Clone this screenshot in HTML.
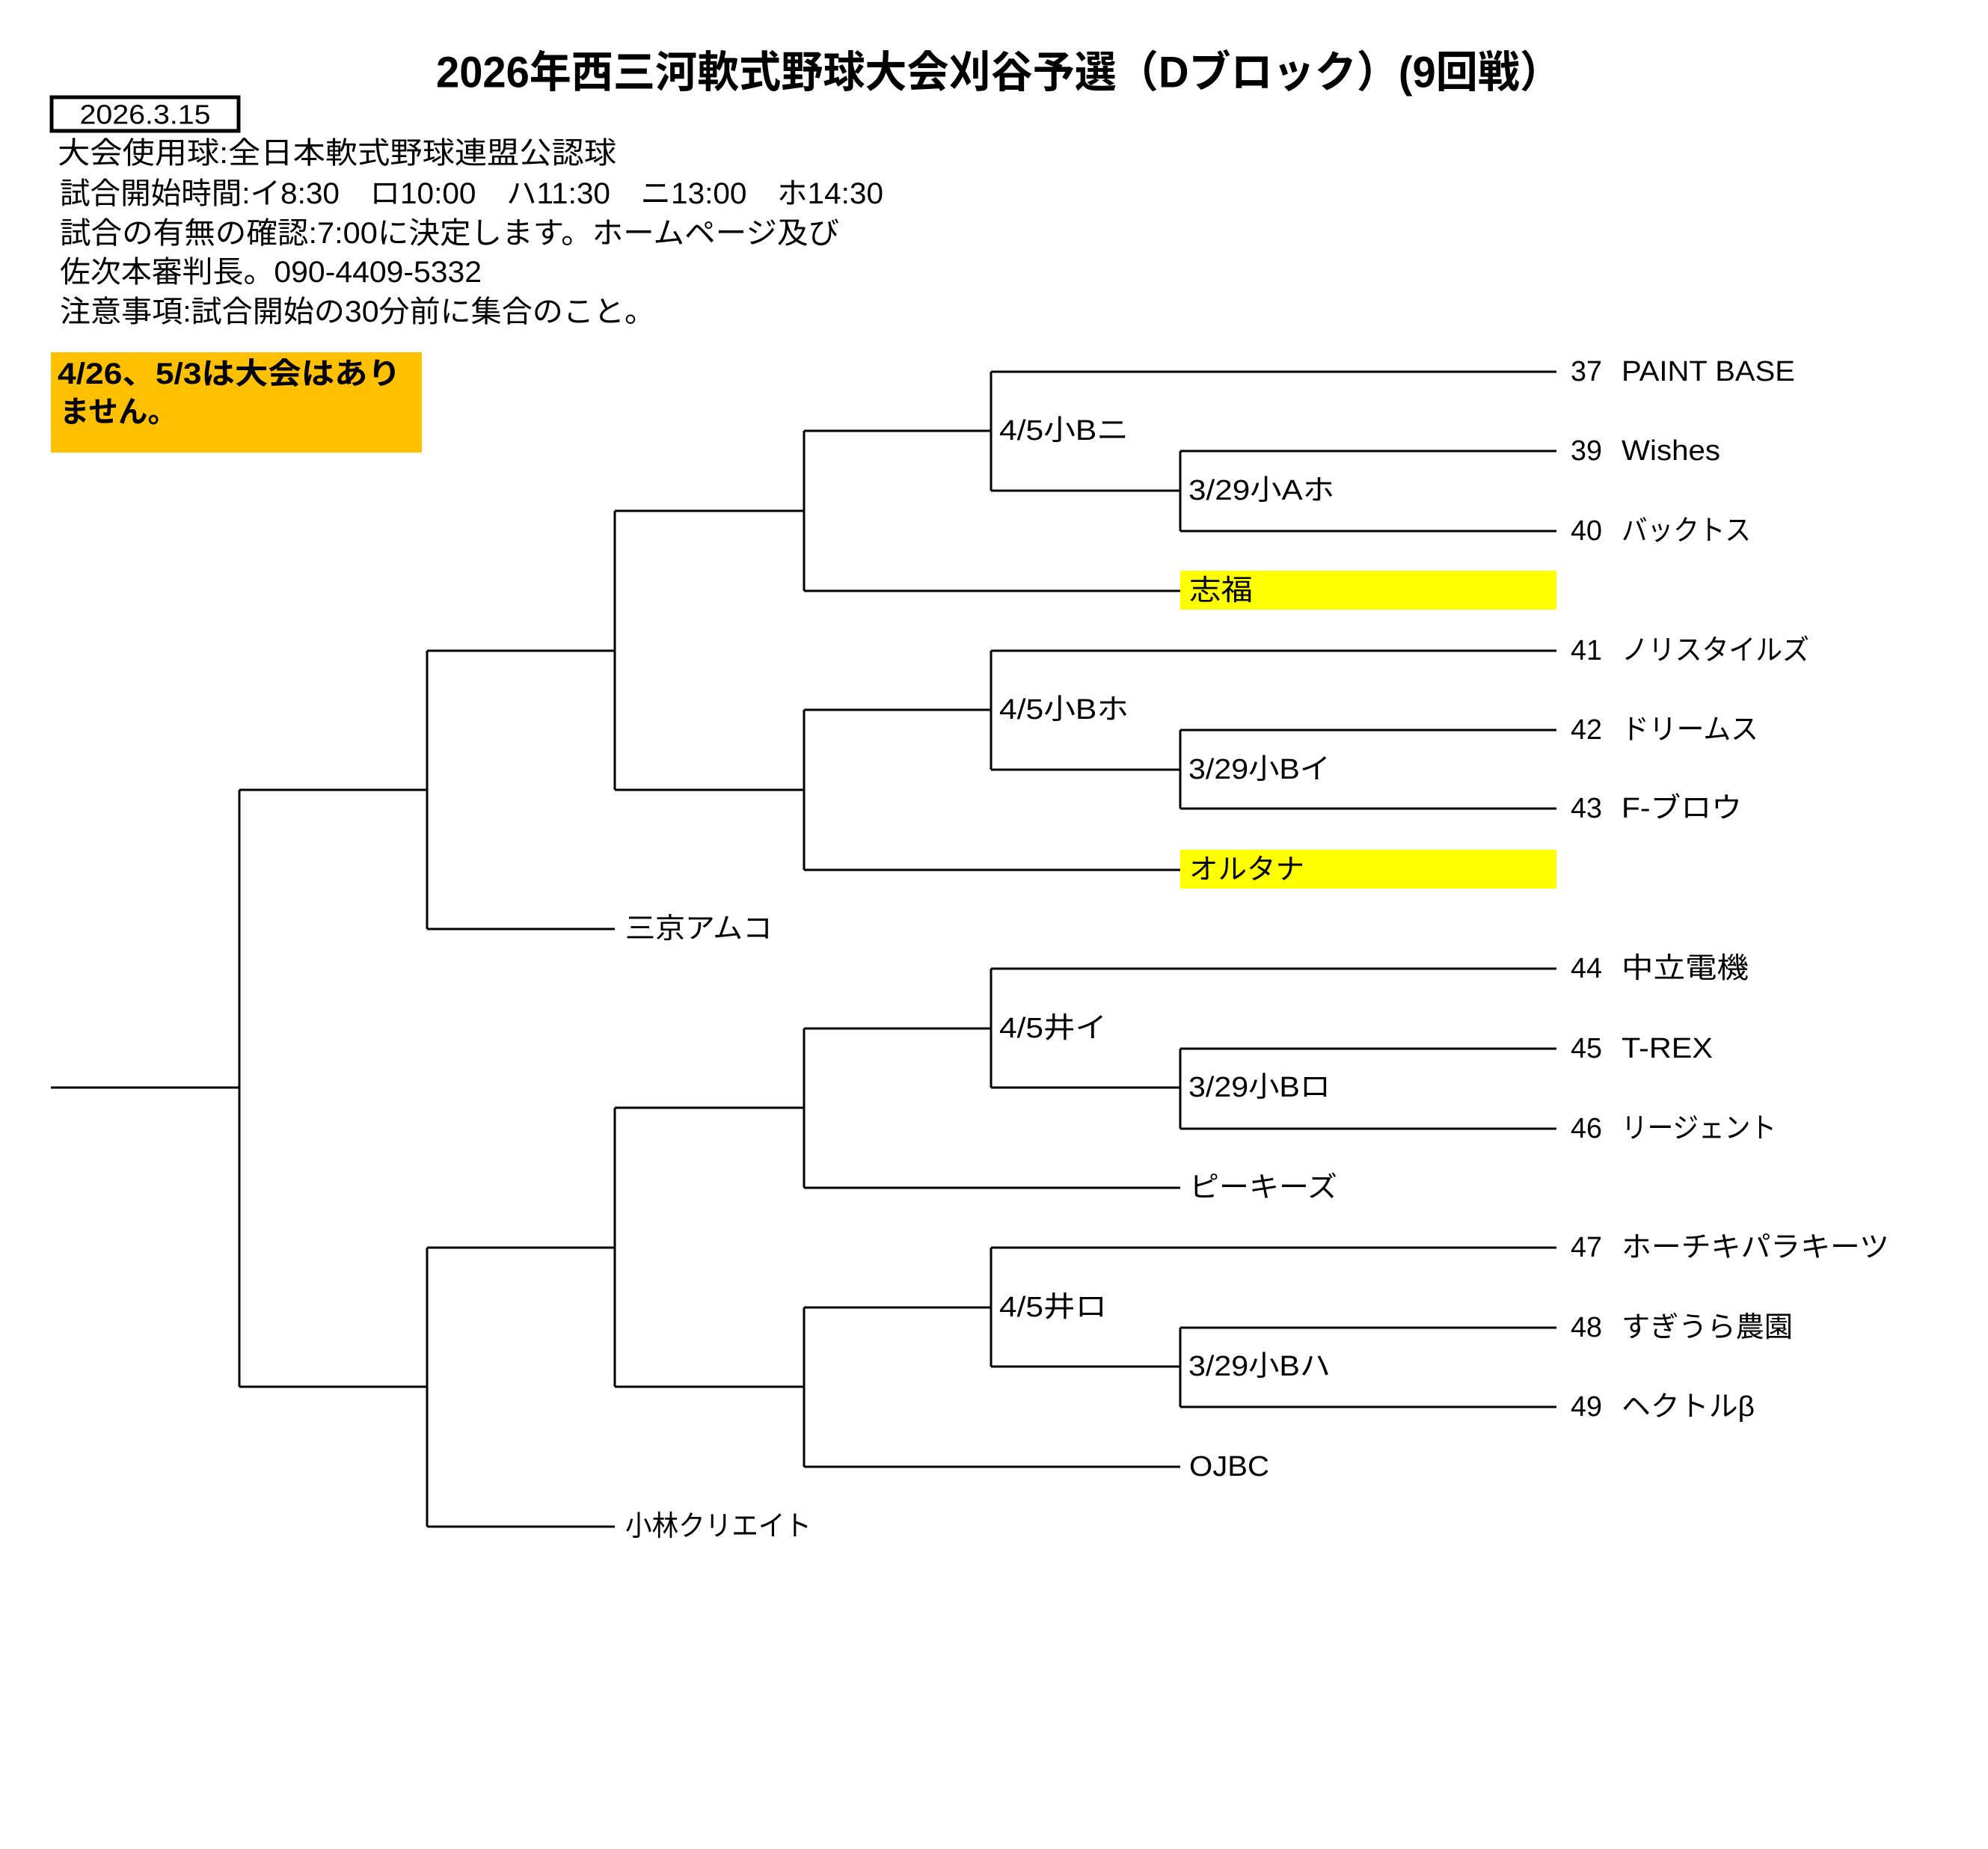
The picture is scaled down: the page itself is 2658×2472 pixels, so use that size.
<!DOCTYPE html>
<html><head><meta charset="utf-8"><style>
html,body{margin:0;padding:0;background:#fff;}
svg text{font-family:"Liberation Sans","Noto Sans CJK JP",sans-serif;fill:#000;}
</style></head><body>
<svg width="2658" height="2467" viewBox="0 0 2658 2467" xmlns="http://www.w3.org/2000/svg">
<rect width="2658" height="2467" fill="#fff"/>
<text x="583" y="97" font-size="58" font-weight="bold" dominant-baseline="central" textLength="1505" lengthAdjust="spacingAndGlyphs">2026年西三河軟式野球大会刈谷予選（Dブロック）(9回戦）</text>
<rect x="69" y="130" width="250" height="45" fill="none" stroke="#000" stroke-width="5"/>
<text x="194" y="153" font-size="36" text-anchor="middle" dominant-baseline="central" textLength="175" lengthAdjust="spacingAndGlyphs">2026.3.15</text>
<g font-size="40">
<text x="77" y="205" dominant-baseline="central" textLength="747" lengthAdjust="spacingAndGlyphs">大会使用球:全日本軟式野球連盟公認球</text>
<text x="80" y="259" dominant-baseline="central" textLength="1101" lengthAdjust="spacingAndGlyphs">試合開始時間:イ8:30　ロ10:00　ハ11:30　ニ13:00　ホ14:30</text>
<text x="80" y="312" dominant-baseline="central" textLength="1042" lengthAdjust="spacingAndGlyphs">試合の有無の確認:7:00に決定します。ホームページ及び</text>
<text x="80" y="364" dominant-baseline="central" textLength="564" lengthAdjust="spacingAndGlyphs">佐次本審判長。090-4409-5332</text>
<text x="80" y="417" dominant-baseline="central" textLength="796" lengthAdjust="spacingAndGlyphs">注意事項:試合開始の30分前に集合のこと。</text>
</g>
<rect x="68" y="471" width="496" height="134" fill="#FFC000"/>
<text x="77" y="500" font-size="40" font-weight="bold" dominant-baseline="central" textLength="459" lengthAdjust="spacingAndGlyphs">4/26、5/3は大会はあり</text>
<text x="80" y="551" font-size="40" font-weight="bold" dominant-baseline="central" textLength="157" lengthAdjust="spacingAndGlyphs">ません。</text>

<rect x="1578" y="763" width="503" height="52" fill="#FFFF00"/>
<rect x="1578" y="1136" width="503" height="52" fill="#FFFF00"/>

<g stroke="#000" stroke-width="3" fill="none">
<path d="M1325 497H2081M1578 603H2081M1578 710H2081M1578 603V710M1325 656H1578M1325 497V656M1075 576H1325M1075 790H1578M1075 576V790M822 683H1075"/>
<path d="M1325 870H2081M1578 976H2081M1578 1081H2081M1578 976V1081M1325 1029H1578M1325 870V1029M1075 949H1325M1075 1163H1578M1075 949V1163M822 1056H1075"/>
<path d="M822 683V1056M571 870H822M571 1242H822M571 870V1242M320 1056H571"/>
<path d="M1325 1295H2081M1578 1402H2081M1578 1509H2081M1578 1402V1509M1325 1454H1578M1325 1295V1454M1075 1375H1325M1075 1588H1578M1075 1375V1588M822 1481H1075"/>
<path d="M1325 1668H2081M1578 1775H2081M1578 1881H2081M1578 1775V1881M1325 1827H1578M1325 1668V1827M1075 1748H1325M1075 1961H1578M1075 1748V1961M822 1854H1075"/>
<path d="M822 1481V1854M571 1668H822M571 2041H822M571 1668V2041"/>
<path d="M68 1454H320M320 1056V1854M320 1854H571"/>
</g>

<g font-size="38" dominant-baseline="central">
<text x="2100" y="497" dominant-baseline="central" textLength="42" lengthAdjust="spacingAndGlyphs">37</text>
<text x="2168" y="497" dominant-baseline="central" textLength="232" lengthAdjust="spacingAndGlyphs">PAINT BASE</text>
<text x="2100" y="603" dominant-baseline="central" textLength="42" lengthAdjust="spacingAndGlyphs">39</text>
<text x="2168" y="603" dominant-baseline="central" textLength="132" lengthAdjust="spacingAndGlyphs">Wishes</text>
<text x="2100" y="710" dominant-baseline="central" textLength="42" lengthAdjust="spacingAndGlyphs">40</text>
<text x="2168" y="710" dominant-baseline="central" textLength="173" lengthAdjust="spacingAndGlyphs">バックトス</text>
<text x="1590" y="790" dominant-baseline="central" textLength="85" lengthAdjust="spacingAndGlyphs">志福</text>
<text x="2100" y="870" dominant-baseline="central" textLength="42" lengthAdjust="spacingAndGlyphs">41</text>
<text x="2168" y="870" dominant-baseline="central" textLength="251" lengthAdjust="spacingAndGlyphs">ノリスタイルズ</text>
<text x="2100" y="976" dominant-baseline="central" textLength="42" lengthAdjust="spacingAndGlyphs">42</text>
<text x="2168" y="976" dominant-baseline="central" textLength="183" lengthAdjust="spacingAndGlyphs">ドリームス</text>
<text x="2100" y="1081" dominant-baseline="central" textLength="42" lengthAdjust="spacingAndGlyphs">43</text>
<text x="2168" y="1081" dominant-baseline="central" textLength="161" lengthAdjust="spacingAndGlyphs">F-ブロウ</text>
<text x="1590" y="1163" dominant-baseline="central" textLength="154" lengthAdjust="spacingAndGlyphs">オルタナ</text>
<text x="836" y="1242" dominant-baseline="central" textLength="197" lengthAdjust="spacingAndGlyphs">三京アムコ</text>
<text x="2100" y="1295" dominant-baseline="central" textLength="42" lengthAdjust="spacingAndGlyphs">44</text>
<text x="2168" y="1295" dominant-baseline="central" textLength="170" lengthAdjust="spacingAndGlyphs">中立電機</text>
<text x="2100" y="1402" dominant-baseline="central" textLength="42" lengthAdjust="spacingAndGlyphs">45</text>
<text x="2168" y="1402" dominant-baseline="central" textLength="122" lengthAdjust="spacingAndGlyphs">T-REX</text>
<text x="2100" y="1509" dominant-baseline="central" textLength="42" lengthAdjust="spacingAndGlyphs">46</text>
<text x="2168" y="1509" dominant-baseline="central" textLength="207" lengthAdjust="spacingAndGlyphs">リージェント</text>
<text x="1590" y="1588" dominant-baseline="central" textLength="198" lengthAdjust="spacingAndGlyphs">ピーキーズ</text>
<text x="2100" y="1668" dominant-baseline="central" textLength="42" lengthAdjust="spacingAndGlyphs">47</text>
<text x="2168" y="1668" dominant-baseline="central" textLength="358" lengthAdjust="spacingAndGlyphs">ホーチキパラキーツ</text>
<text x="2100" y="1775" dominant-baseline="central" textLength="42" lengthAdjust="spacingAndGlyphs">48</text>
<text x="2168" y="1775" dominant-baseline="central" textLength="229" lengthAdjust="spacingAndGlyphs">すぎうら農園</text>
<text x="2100" y="1881" dominant-baseline="central" textLength="42" lengthAdjust="spacingAndGlyphs">49</text>
<text x="2168" y="1881" dominant-baseline="central" textLength="178" lengthAdjust="spacingAndGlyphs">ヘクトルβ</text>
<text x="1590" y="1961" dominant-baseline="central" textLength="107" lengthAdjust="spacingAndGlyphs">OJBC</text>
<text x="836" y="2041" dominant-baseline="central" textLength="249" lengthAdjust="spacingAndGlyphs">小林クリエイト</text>

<text x="1336" y="576" dominant-baseline="central" textLength="173" lengthAdjust="spacingAndGlyphs">4/5小Bニ</text>
<text x="1589" y="656" dominant-baseline="central" textLength="195" lengthAdjust="spacingAndGlyphs">3/29小Aホ</text>
<text x="1336" y="949" dominant-baseline="central" textLength="173" lengthAdjust="spacingAndGlyphs">4/5小Bホ</text>
<text x="1589" y="1029" dominant-baseline="central" textLength="190" lengthAdjust="spacingAndGlyphs">3/29小Bイ</text>
<text x="1336" y="1375" dominant-baseline="central" textLength="144" lengthAdjust="spacingAndGlyphs">4/5井イ</text>
<text x="1589" y="1454" dominant-baseline="central" textLength="190" lengthAdjust="spacingAndGlyphs">3/29小Bロ</text>
<text x="1336" y="1748" dominant-baseline="central" textLength="144" lengthAdjust="spacingAndGlyphs">4/5井ロ</text>
<text x="1589" y="1827" dominant-baseline="central" textLength="190" lengthAdjust="spacingAndGlyphs">3/29小Bハ</text>
</g>
</svg>
</body></html>
